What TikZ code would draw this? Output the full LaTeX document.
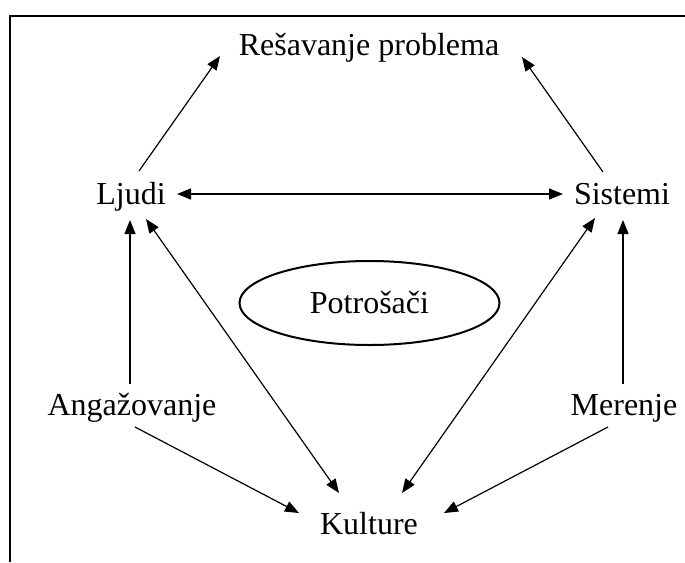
\documentclass[tikz,border=0pt]{standalone}
\usepackage{fontspec}
\setmainfont{Liberation Serif}
\usetikzlibrary{arrows.meta,calc,shapes.geometric}
\begin{document}
\begin{tikzpicture}[x=1pt,y=-1pt,
  label/.style={font=\fontsize{32}{36}\selectfont, inner sep=0pt, anchor=base},
  link/.style={line width=1.2pt, -{Triangle[length=14pt,width=11pt]}},
  dlink/.style={line width=1.2pt, {Triangle[length=14pt,width=11pt]}-{Triangle[length=14pt,width=11pt]}},
  frameline/.style={line width=2.2pt}]
\useasboundingbox (0,0) rectangle (685,562);
% open frame: top and left edges
\draw[frameline] (685,16) -- (10,16) -- (10,562);

% labels
\node[label] (resavanje) at (369,55) {Rešavanje problema};
\node[label] (ljudi) at (131,204) {Ljudi};
\node[label] (sistemi) at (622,204) {Sistemi};
\node[label] (angazovanje) at (132,415) {Angažovanje};
\node[label] (merenje) at (624,415) {Merenje};
\node[label] (kulture) at (369,534) {Kulture};
\node[draw, ellipse, line width=2pt, minimum width=260pt, minimum height=84pt,
      inner sep=0pt, font=\fontsize{32}{36}\selectfont] (potrosaci) at (369.5,303) {Potrošači};

% connectors
\draw[link] ($(ljudi.base)+(8,-33)$) -- ($(resavanje.base)+(-149,1)$);
\draw[link] ($(sistemi.base)+(-19,-32)$) -- ($(resavanje.base)+(153,2)$);
\draw[dlink] ($(ljudi.base)+(46,-10)$) -- ($(sistemi.base)+(-59,-10)$);
\draw[link] ($(angazovanje.base)+(-2,-31)$) -- ($(ljudi.base)+(-1,16)$);
\draw[dlink] ($(ljudi.base)+(15,15)$) -- ($(kulture.base)+(-30,-41)$);
\draw[dlink] ($(sistemi.base)+(-27,14)$) -- ($(kulture.base)+(33,-41)$);
\draw[link] ($(merenje.base)+(-1,-31)$) -- ($(sistemi.base)+(1,16)$);
\draw[link] ($(angazovanje.base)+(3,12)$) -- ($(kulture.base)+(-70,-21)$);
\draw[link] ($(merenje.base)+(-16,12)$) -- ($(kulture.base)+(75,-21)$);
\end{tikzpicture}
\end{document}
